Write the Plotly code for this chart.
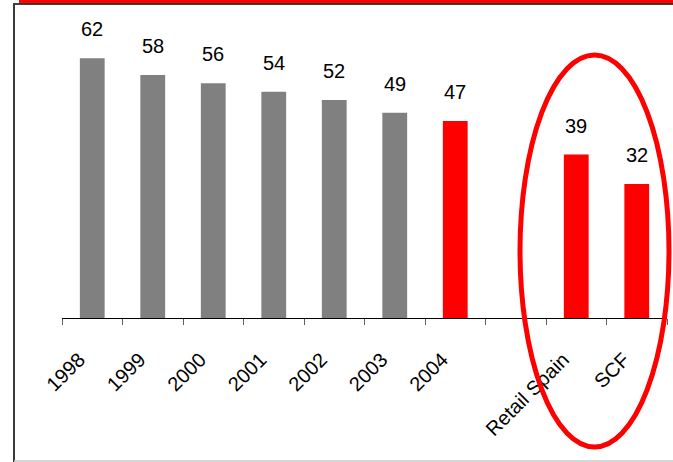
import plotly.graph_objects as go

categories = ["1998", "1999", "2000", "2001", "2002", "2003", "2004", " ", "Retail Spain", "SCF"]
values = [62, 58, 56, 54, 52, 49, 47, None, 39, 32]
highlight = [False, False, False, False, False, False, True, False, True, True]

W, H = 673, 462
ML, MR, MT, MB = 62, 6, 5, 144
PW, PH = W - ML - MR, H - MT - MB


def px(x):
    return (x - ML) / PW


def py(y):
    return (H - MB - y) / PH


colors = ["#FF0000" if h else "#808080" for h in highlight]

fig = go.Figure()
fig.add_trace(go.Bar(
    x=categories, y=[v if v is not None else 0 for v in values],
    marker=dict(color=colors, line=dict(width=0)),
    width=0.41, hoverinfo="skip",
))

for i, v in enumerate(values):
    if v is None:
        continue
    fig.add_annotation(x=i, y=v, text=str(v), showarrow=False, yanchor="bottom",
                       yshift=16, font=dict(family="Liberation Sans, Arial", size=20, color="#000"))

shapes = [
    # top red band
    dict(type="rect", xref="paper", yref="paper", x0=px(19), x1=px(673), y0=py(3.3), y1=py(-1),
         fillcolor="#FF0000", line=dict(width=0), layer="above"),
    # top black line
    dict(type="line", xref="paper", yref="paper", x0=px(13), x1=px(673), y0=py(4), y1=py(4),
         line=dict(color="#000000", width=1.5), layer="above"),
    # left border
    dict(type="line", xref="paper", yref="paper", x0=px(14), x1=px(14), y0=py(3.5), y1=py(462),
         line=dict(color="#3a3a3a", width=2), layer="above"),
    # bottom light line
    dict(type="line", xref="paper", yref="paper", x0=px(14), x1=px(673), y0=py(461), y1=py(461),
         line=dict(color="#c8c8c8", width=1.5), layer="above"),
    # highlight ellipse
    dict(type="circle", xref="paper", yref="paper", x0=px(520), x1=px(669), y0=py(447), y1=py(55),
         line=dict(color="#FF0000", width=5), layer="above"),
]

fig.update_layout(
    width=W, height=H,
    margin=dict(l=ML, r=MR, t=MT, b=MB, pad=0),
    paper_bgcolor="white", plot_bgcolor="white",
    showlegend=False, bargap=0.59,
    shapes=shapes,
    xaxis=dict(
        type="category", categoryorder="array", categoryarray=categories,
        tickson="boundaries", ticks="outside", ticklen=6, tickwidth=1, tickcolor="#606060",
        showline=True, linecolor="#000000", linewidth=1,
        showgrid=False, zeroline=False,
        tickangle=-45, ticklabelstandoff=21, ticklabelshift=-13,
        tickfont=dict(family="Liberation Sans, Arial", size=20, color="#000"),
        range=[-0.5, 9.5],
    ),
    yaxis=dict(visible=False, range=[0, PH / 4.19], showgrid=False, zeroline=False),
)

fig.write_html("out.html")
